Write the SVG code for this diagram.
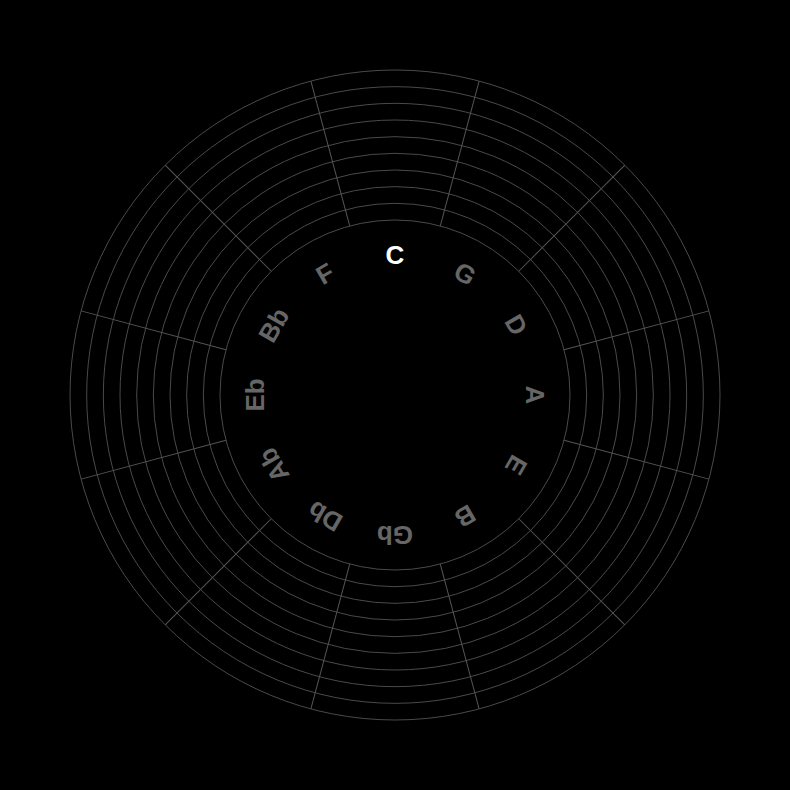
<svg xmlns="http://www.w3.org/2000/svg" width="790" height="790" viewBox="0 0 790 790">
<style>
.ring{fill:none;stroke:#4a4a4a;stroke-width:1}
.spoke{stroke:#555;stroke-width:1}
.lbl{font-family:"Liberation Sans",Arial,sans-serif;font-weight:bold;font-size:26px;text-anchor:middle;dominant-baseline:central;fill:#666}
.cur{fill:#fff}
</style>
<rect width="790" height="790" fill="#000"/>
<g id="grid" transform="translate(395,395)">
<circle class="ring" r="175"/><circle class="ring" r="191.67"/><circle class="ring" r="208.33"/><circle class="ring" r="225"/><circle class="ring" r="241.67"/><circle class="ring" r="258.33"/><circle class="ring" r="275"/><circle class="ring" r="291.67"/><circle class="ring" r="308.33"/><circle class="ring" r="325"/>
</g>
<g id="connectors" transform="translate(395,395)">
<line class="spoke" x1="0" y1="-175" x2="0" y2="-325" transform="rotate(15)"/>
<line class="spoke" x1="0" y1="-175" x2="0" y2="-325" transform="rotate(45)"/>
<line class="spoke" x1="0" y1="-175" x2="0" y2="-325" transform="rotate(75)"/>
<line class="spoke" x1="0" y1="-175" x2="0" y2="-325" transform="rotate(105)"/>
<line class="spoke" x1="0" y1="-175" x2="0" y2="-325" transform="rotate(135)"/>
<line class="spoke" x1="0" y1="-175" x2="0" y2="-325" transform="rotate(165)"/>
<line class="spoke" x1="0" y1="-175" x2="0" y2="-325" transform="rotate(195)"/>
<line class="spoke" x1="0" y1="-175" x2="0" y2="-325" transform="rotate(225)"/>
<line class="spoke" x1="0" y1="-175" x2="0" y2="-325" transform="rotate(255)"/>
<line class="spoke" x1="0" y1="-175" x2="0" y2="-325" transform="rotate(285)"/>
<line class="spoke" x1="0" y1="-175" x2="0" y2="-325" transform="rotate(315)"/>
<line class="spoke" x1="0" y1="-175" x2="0" y2="-325" transform="rotate(345)"/>
</g>
<g id="node-C" transform="translate(395,395) rotate(0) translate(0,-140)"><text class="lbl cur">C</text></g>
<g id="node-G" transform="translate(395,395) rotate(30) translate(0,-140)"><text class="lbl">G</text></g>
<g id="node-D" transform="translate(395,395) rotate(60) translate(0,-140)"><text class="lbl">D</text></g>
<g id="node-A" transform="translate(395,395) rotate(90) translate(0,-140)"><text class="lbl">A</text></g>
<g id="node-E" transform="translate(395,395) rotate(120) translate(0,-140)"><text class="lbl">E</text></g>
<g id="node-B" transform="translate(395,395) rotate(150) translate(0,-140)"><text class="lbl">B</text></g>
<g id="node-Gb" transform="translate(395,395) rotate(180) translate(0,-140)"><text class="lbl">Gb</text></g>
<g id="node-Db" transform="translate(395,395) rotate(210) translate(0,-140)"><text class="lbl">Db</text></g>
<g id="node-Ab" transform="translate(395,395) rotate(240) translate(0,-140)"><text class="lbl">Ab</text></g>
<g id="node-Eb" transform="translate(395,395) rotate(270) translate(0,-140)"><text class="lbl">Eb</text></g>
<g id="node-Bb" transform="translate(395,395) rotate(300) translate(0,-140)"><text class="lbl">Bb</text></g>
<g id="node-F" transform="translate(395,395) rotate(330) translate(0,-140)"><text class="lbl">F</text></g>
</svg>
